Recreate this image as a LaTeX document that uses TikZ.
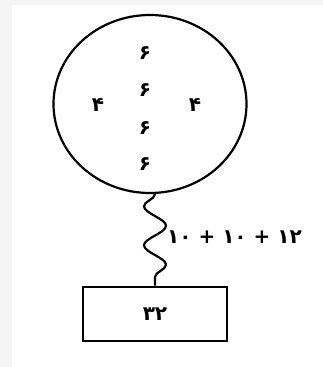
\documentclass[tikz,border=0pt]{standalone}
\usepackage{fontspec}
\newfontfamily\arabicfont[Script=Arabic]{DejaVu Sans}
\usetikzlibrary{positioning,shapes.geometric,decorations.pathmorphing}
\definecolor{fondoGris}{RGB}{245,245,245}

\begin{document}
\begin{tikzpicture}[x=1pt,y=-1pt,
     raqam/.style={font=\arabicfont\bfseries\fontsize{20}{20}\selectfont, inner sep=0pt},
     halqa/.style={ellipse, draw, line width=2.2pt, minimum width=193pt,
                   minimum height=178pt, inner sep=0pt},
     jabe/.style={rectangle, draw, line width=2.8pt, minimum width=144pt,
                  minimum height=54pt, font=\arabicfont\bfseries\fontsize{20}{20}\selectfont},
     fanar/.style={line width=2.2pt, decorate,
                   decoration={snake, amplitude=11pt, segment length=39pt, mirror}}]
    \fill[fondoGris] (0,0) rectangle (323,367);
    \fill[white] (12,5) rectangle (323,367);
    \useasboundingbox (0,0) rectangle (323,367);
    \node[halqa] (c) at (150,104) {};
    \node[raqam] (s1) at (145,53) {۶};
    \node[raqam] (s2) at (145,90) {۶};
    \node[raqam] (s3) at (145,128) {۶};
    \node[raqam] (s4) at (145,164) {۶};
    \node[raqam] (l) at (98,105) {۴};
    \node[raqam] (r) at (195,105) {۴};
    \node[jabe] (b) at (155,314) {۳۲};
    \draw[fanar] (c.south -| b.north) -- (b.north);
    \node[raqam, anchor=west] (jam) at (167,237) {۱۰ + ۱۰ + ۱۲};
  \end{tikzpicture}
\end{document}
